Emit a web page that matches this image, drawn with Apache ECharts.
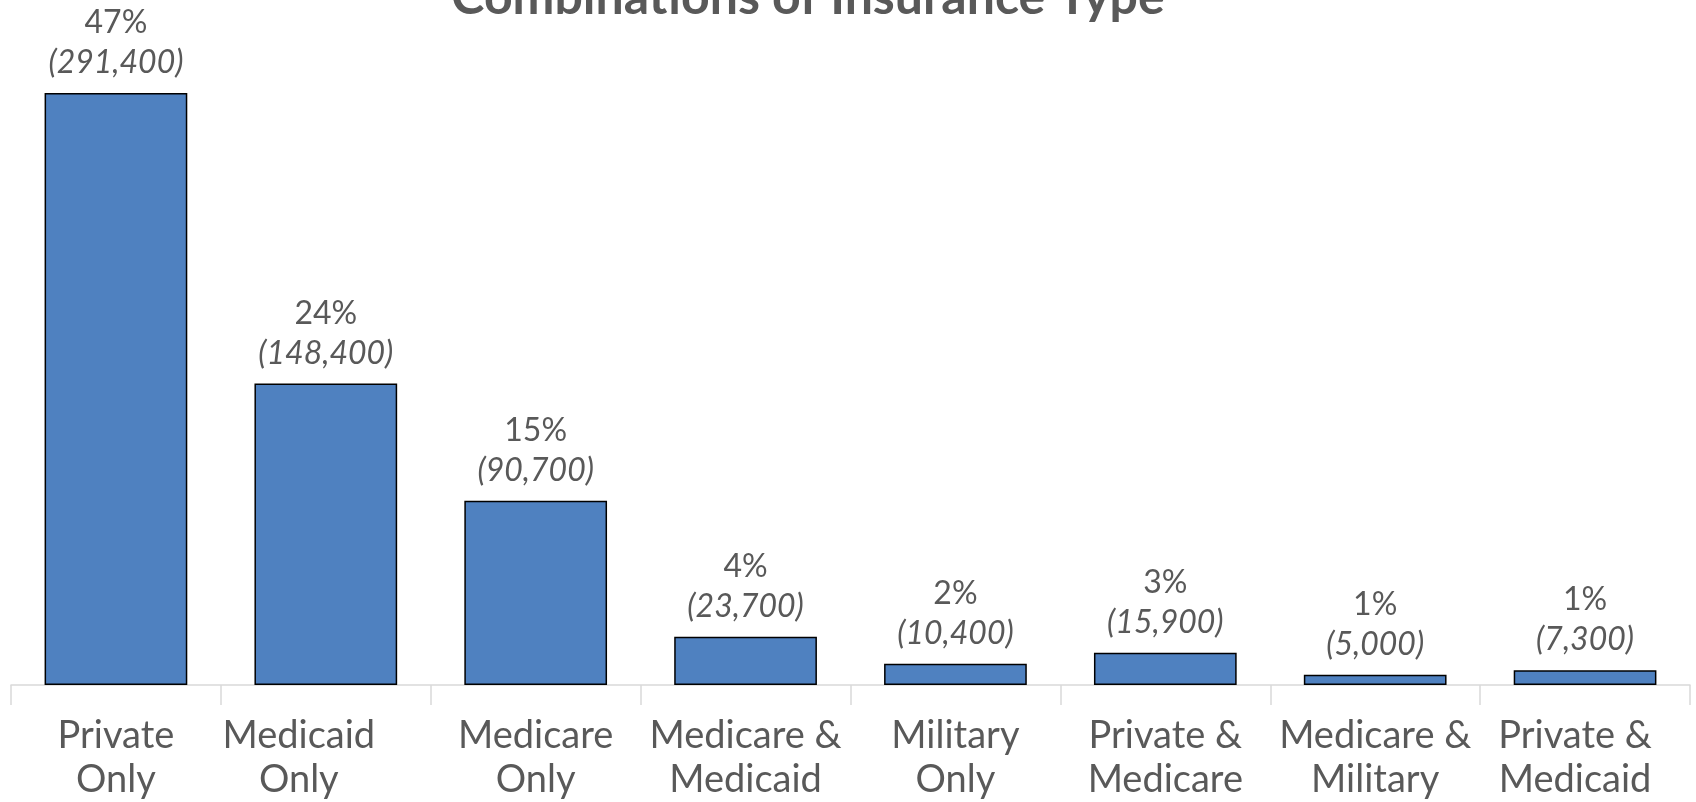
<!DOCTYPE html>
<html>
<head>
<meta charset="utf-8">
<title>Combinations of Insurance Type</title>
<script src="https://cdn.jsdelivr.net/npm/echarts@6/dist/echarts.min.js"></script>
<style>
  html, body { margin: 0; padding: 0; background: #fff; }
  #chart { width: 1696px; height: 802px; }
</style>
</head>
<body>
<div id="chart"></div>
<script>
// data
const categories = [
  'Private\nOnly', 'Medicaid\nOnly', 'Medicare\nOnly', 'Medicare &\nMedicaid',
  'Military\nOnly', 'Private &\nMedicare', 'Medicare &\nMilitary', 'Private &\nMedicaid'
];
const counts = [291400, 148400, 90700, 23700, 10400, 15900, 5000, 7300];
const percents = [47, 24, 15, 4, 2, 3, 1, 1];

// the source nudges a couple of wrapped labels to the left (px)
const labelNudge = [0, 27, 0, 0, 0, 0, 0, 10];

const FONT = 'Lato, "Open Sans", sans-serif';
const GREY = '#595959';

const chart = echarts.init(document.getElementById('chart'));

chart.setOption({
  animation: false,
  backgroundColor: '#fff',
  graphic: [{
    type: 'text',
    x: 808,
    y: -2,
    style: {
      text: 'Combinations of Insurance Type',
      fill: GREY,
      font: 'bold 50px ' + FONT,
      textAlign: 'center',
      textVerticalAlign: 'middle',
      align: 'center',
      verticalAlign: 'middle'
    }
  }],
  grid: {
    left: 11,
    right: 6,
    top: 75.5,
    bottom: 117,
    containLabel: false
  },
  xAxis: {
    type: 'category',
    data: categories.map(function (c, i) {
      return { value: c, textStyle: { padding: [0, labelNudge[i] * 2, 0, 0] } };
    }),
    axisLine: { lineStyle: { color: '#D9D9D9', width: 1.5 } },
    axisTick: { show: true, length: 20, lineStyle: { color: '#D9D9D9', width: 1.5 } },
    axisLabel: {
      interval: 0,
      margin: 29,
      color: GREY,
      fontFamily: FONT,
      fontSize: 38,
      lineHeight: 44
    }
  },
  yAxis: {
    type: 'value',
    min: 0,
    max: 300000,
    show: false,
    splitLine: { show: false }
  },
  series: [{
    type: 'bar',
    data: counts,
    barCategoryGap: '32%',
    itemStyle: {
      color: '#4F81C0',
      borderColor: '#000',
      borderWidth: 1.5
    },
    label: {
      show: true,
      position: 'top',
      distance: 10,
      formatter: function (p) {
        return '{a|' + percents[p.dataIndex] + '%}\n{b|(' +
          counts[p.dataIndex].toLocaleString('en-US') + ')}';
      },
      rich: {
        a: { color: GREY, fontFamily: FONT, fontSize: 32, lineHeight: 40 },
        b: { color: GREY, fontFamily: FONT, fontSize: 32, lineHeight: 40, fontStyle: 'italic' }
      }
    }
  }]
});
</script>
</body>
</html>
